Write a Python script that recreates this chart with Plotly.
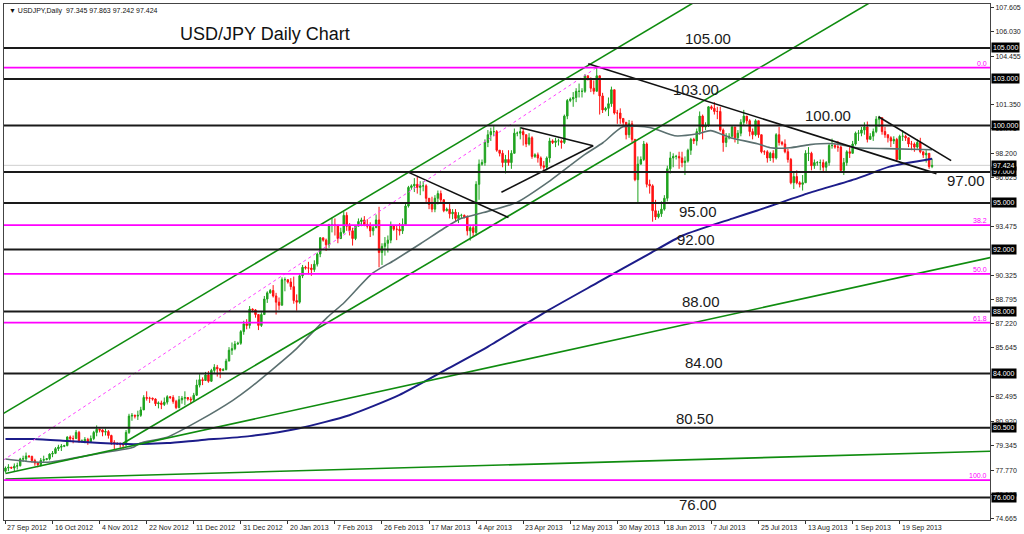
import plotly.graph_objects as go

# ---------------- data ----------------
# bar index 0 = 27 Sep 2012; 6 bars per week (Sunday bars), 316 bars in all
date_labels = ["27 Sep 2012", "16 Oct 2012", "4 Nov 2012", "22 Nov 2012", "11 Dec 2012",
               "31 Dec 2012", "20 Jan 2013", "7 Feb 2013", "26 Feb 2013", "17 Mar 2013",
               "4 Apr 2013", "23 Apr 2013", "12 May 2013", "30 May 2013", "18 Jun 2013",
               "7 Jul 2013", "25 Jul 2013", "13 Aug 2013", "1 Sep 2013", "19 Sep 2013"]
label_bars = [0, 16, 32, 48, 64, 80, 96, 112, 128, 144, 160, 176, 192, 208, 224,
              240, 256, 272, 288, 304]

first_open = 77.70
closes = [
    77.90, 77.95,
    77.90, 78.02, 78.05, 78.48, 78.50, 78.68,
    78.65, 78.38, 78.22, 78.12, 78.40, 78.45,
    78.50, 78.80, 78.85, 79.15, 79.25, 79.30,
    79.35, 79.90, 79.80, 79.80, 80.20, 79.60,
    79.65, 79.75, 79.60, 79.80, 80.20, 80.40,
    80.35, 80.22, 80.25, 80.00, 79.55, 79.50,
    79.45, 79.45, 79.40, 80.20, 81.25, 81.30,
    81.25, 81.30, 81.65, 82.45, 82.40, 82.40,
    82.35, 82.05, 82.10, 82.00, 82.15, 82.50,
    82.45, 82.20, 81.80, 82.30, 82.40, 82.45,
    82.35, 82.30, 82.60, 83.25, 83.60, 83.55,
    83.90, 83.50, 84.20, 84.40, 84.30, 84.20,
    84.25, 84.80, 85.50, 85.60, 85.90,
    85.95, 86.70, 87.20, 87.10, 88.15,
    88.10, 87.80, 87.10, 87.80, 88.80, 89.20,
    89.35, 89.00, 88.60, 88.40, 90.05, 90.05,
    89.90, 89.60, 88.70, 88.60, 90.30, 90.85,
    90.80, 90.80, 90.70, 91.05, 91.70, 92.75,
    92.60, 92.30, 93.60, 93.60, 93.55, 92.70,
    93.10, 94.20, 93.50, 93.20, 92.70, 93.50,
    93.80, 93.90, 93.60, 93.50, 93.20, 93.40,
    93.90, 91.80, 92.20, 92.40, 92.60, 93.55,
    93.30, 93.30, 93.20, 93.60, 94.80, 96.00,
    96.10, 96.20, 96.00, 96.10, 96.10, 95.30,
    94.90, 94.60, 95.30, 95.60, 95.20, 94.50,
    94.60, 94.30, 94.40, 94.00, 94.20, 94.20,
    94.10, 93.20, 93.40, 93.10, 96.20, 97.50,
    97.60, 98.90, 99.40, 99.60, 99.60, 98.40,
    98.20, 97.60, 97.80, 97.60, 98.20, 99.50,
    99.50, 99.60, 99.40, 98.80, 99.20, 98.00,
    98.10, 97.90, 97.40, 97.30, 97.90, 99.00,
    98.90, 99.00, 99.00, 98.90, 100.60, 101.60,
    101.70, 101.80, 102.20, 102.20, 102.20, 103.20,
    103.00, 102.40, 102.20, 103.20, 101.90, 101.00,
    101.10, 101.40, 102.30, 100.80, 100.80, 100.45,
    100.20, 99.40, 100.10, 99.10, 96.50, 97.50,
    97.80, 98.80, 96.20, 96.10, 94.50, 94.10,
    94.30, 94.60, 95.30, 97.20, 97.90, 98.00,
    98.00, 97.90, 97.60, 97.70, 98.40, 99.10,
    99.00, 99.60, 100.60, 99.90, 100.00, 101.20,
    101.10, 100.90, 100.90, 99.70, 98.90, 99.20,
    99.30, 99.90, 99.20, 99.50, 100.20, 100.60,
    100.30, 99.60, 99.40, 100.30, 99.40, 98.30,
    98.30, 97.90, 98.20, 97.90, 99.40, 98.90,
    98.80, 98.30, 97.80, 96.30, 96.70, 96.30,
    96.20, 96.30, 98.20, 98.20, 97.40, 97.60,
    97.60, 97.60, 97.30, 97.60, 98.70, 98.70,
    98.60, 98.60, 97.10, 97.60, 98.30, 98.20,
    98.80, 99.50, 99.50, 99.70, 99.90, 99.10,
    99.30, 99.60, 100.40, 100.50, 99.60, 99.40,
    99.20, 99.00, 99.10, 97.80, 99.30, 99.30,
    99.20, 98.80, 98.80, 98.60, 98.90, 98.30,
    98.10, 98.20, 97.345, 97.424,
]
highs = [
    78.00, 78.15,
    77.98, 78.20, 78.25, 78.56, 78.70, 78.90,
    78.72, 78.70, 78.50, 78.30, 78.55, 78.70,
    78.55, 78.85, 79.00, 79.25, 79.40, 79.45,
    79.40, 79.95, 80.00, 80.00, 80.35, 80.30,
    79.75, 79.90, 79.85, 80.00, 80.30, 80.65,
    80.45, 80.40, 80.45, 80.35, 80.05, 79.70,
    79.55, 79.55, 79.55, 80.35, 81.40, 81.45,
    81.35, 81.60, 81.85, 82.60, 82.85, 82.50,
    82.45, 82.40, 82.20, 82.25, 82.45, 82.60,
    82.55, 82.60, 82.30, 82.55, 82.55, 82.85,
    82.45, 82.50, 82.75, 83.60, 83.95, 83.75,
    84.10, 84.15, 84.30, 84.60, 84.55, 84.35,
    84.35, 84.95, 85.70, 86.00, 86.10,
    86.05, 86.80, 87.40, 87.50, 88.35,
    88.20, 88.15, 87.80, 87.95, 89.00, 89.30,
    89.45, 89.70, 89.20, 88.90, 90.20, 90.20,
    90.05, 90.15, 90.25, 89.10, 90.40, 91.00,
    90.95, 91.20, 91.05, 91.30, 91.80, 92.80,
    92.75, 92.70, 93.65, 94.05, 94.00, 93.60,
    93.40, 94.45, 94.40, 93.70, 93.40, 93.55,
    94.00, 94.05, 94.15, 93.95, 93.75, 93.60,
    94.25, 94.75, 92.40, 92.80, 92.90, 93.80,
    93.50, 93.55, 93.70, 94.00, 95.05, 96.10,
    96.20, 96.60, 96.70, 96.40, 96.40, 96.20,
    95.20, 95.40, 95.50, 95.80, 95.80, 95.25,
    94.70, 95.00, 94.60, 94.60, 94.40, 94.30,
    94.25, 94.20, 93.50, 93.60, 96.40, 97.80,
    97.80, 99.10, 99.70, 99.85, 99.95, 99.70,
    98.40, 98.40, 98.10, 98.40, 98.40, 99.80,
    99.60, 99.90, 99.80, 99.40, 99.50, 99.30,
    98.20, 98.25, 98.00, 97.70, 98.00, 99.20,
    99.10, 99.20, 99.15, 99.10, 100.70, 101.70,
    101.80, 102.15, 102.40, 102.70, 102.40, 103.30,
    103.20, 103.10, 102.90, 103.73, 103.10, 102.10,
    101.20, 101.80, 102.50, 102.10, 101.00, 101.10,
    100.40, 100.20, 100.35, 100.30, 99.10, 98.00,
    98.00, 99.00, 98.90, 96.50, 96.20, 95.20,
    94.50, 95.10, 95.50, 97.40, 98.30, 98.20,
    98.10, 98.30, 98.30, 98.00, 98.50, 99.20,
    99.20, 99.80, 100.90, 100.70, 100.20, 101.25,
    101.30, 101.50, 101.20, 101.20, 99.80, 99.50,
    99.50, 100.00, 99.90, 99.70, 100.40, 101.00,
    100.50, 100.40, 99.80, 100.40, 100.30, 99.40,
    98.40, 98.40, 98.30, 98.40, 99.50, 99.90,
    99.00, 99.10, 98.50, 97.90, 96.95, 97.10,
    96.40, 96.80, 98.40, 98.60, 98.30, 97.80,
    97.70, 97.80, 97.80, 97.70, 98.80, 99.15,
    98.80, 99.00, 98.70, 97.90, 98.40, 98.60,
    99.00, 99.60, 99.70, 99.90, 100.20, 100.25,
    99.50, 99.80, 100.60, 100.62, 100.40, 99.90,
    99.40, 99.30, 99.30, 99.20, 99.40, 99.70,
    99.40, 99.20, 99.00, 98.90, 99.10, 99.20,
    98.30, 98.40, 98.20, 97.863,
]
lows = [
    77.60, 77.70,
    77.85, 77.66, 77.80, 78.00, 78.30, 78.30,
    78.55, 78.25, 78.05, 77.95, 78.00, 78.30,
    78.40, 78.40, 78.60, 78.80, 79.00, 79.00,
    79.25, 79.30, 79.60, 79.50, 79.80, 79.55,
    79.55, 79.50, 79.40, 79.55, 79.70, 79.95,
    80.20, 79.95, 80.00, 79.80, 79.40, 79.05,
    79.40, 79.20, 79.10, 79.30, 80.10, 80.95,
    81.10, 81.00, 81.20, 81.65, 82.25, 82.10,
    82.25, 81.90, 81.75, 81.70, 81.90, 82.00,
    82.35, 82.05, 81.70, 81.75, 82.05, 81.95,
    82.25, 82.05, 82.20, 82.55, 83.10, 83.25,
    83.60, 83.40, 83.45, 84.00, 83.80, 83.70,
    84.15, 84.20, 84.80, 85.20, 85.50,
    85.85, 85.85, 86.50, 86.85, 86.90,
    87.95, 87.60, 86.80, 87.00, 87.80, 88.55,
    89.15, 88.90, 87.80, 88.10, 88.40, 89.30,
    89.80, 89.40, 88.50, 88.05, 88.50, 90.15,
    90.70, 90.40, 90.30, 90.55, 90.90, 91.50,
    92.50, 91.90, 92.10, 93.10, 92.90, 92.40,
    92.80, 93.00, 93.20, 92.90, 92.25, 92.60,
    93.60, 93.50, 93.50, 93.35, 92.80, 92.90,
    93.70, 90.85, 91.00, 91.60, 91.80, 92.40,
    93.20, 92.60, 92.90, 93.00, 93.60, 94.70,
    95.85, 95.70, 95.60, 95.50, 95.75, 95.00,
    94.60, 94.40, 94.40, 94.90, 95.00, 94.40,
    94.45, 94.00, 93.95, 93.80, 93.70, 94.00,
    94.00, 92.90, 92.57, 92.80, 92.90, 95.20,
    97.40, 97.40, 98.60, 99.00, 99.30, 98.30,
    98.00, 97.30, 96.90, 97.40, 97.20, 98.20,
    99.30, 99.10, 98.70, 98.60, 98.70, 97.85,
    97.90, 97.60, 97.20, 97.10, 97.10, 97.60,
    98.80, 98.60, 98.70, 98.50, 98.80, 100.40,
    101.50, 101.20, 101.50, 101.80, 101.80, 102.10,
    102.90, 102.15, 102.00, 102.20, 100.70, 100.80,
    100.90, 100.60, 101.20, 100.70, 100.10, 100.10,
    100.00, 99.10, 99.20, 98.90, 96.40, 94.95,
    97.50, 97.70, 96.00, 95.60, 93.79, 93.90,
    94.00, 94.10, 94.50, 95.10, 96.90, 97.30,
    97.80, 97.20, 97.30, 96.80, 97.60, 98.10,
    98.80, 98.70, 99.40, 99.10, 99.70, 99.90,
    101.00, 100.70, 100.40, 99.60, 98.30, 98.60,
    99.10, 99.20, 98.90, 98.80, 99.30, 100.00,
    100.10, 99.30, 99.10, 99.30, 99.20, 98.20,
    98.10, 97.60, 97.70, 97.60, 97.80, 98.70,
    98.70, 98.20, 97.60, 96.20, 95.90, 96.20,
    96.00, 95.80, 96.30, 97.70, 97.10, 97.20,
    97.40, 97.10, 97.00, 97.00, 97.40, 98.50,
    98.50, 98.30, 96.95, 96.80, 97.40, 97.90,
    98.50, 98.70, 99.00, 99.30, 99.40, 98.90,
    99.10, 99.00, 99.50, 99.90, 99.40, 99.20,
    98.90, 98.60, 98.80, 97.70, 97.80, 99.00,
    99.00, 98.60, 98.40, 98.30, 98.50, 98.20,
    97.90, 97.60, 97.20, 97.242,
]
last_quote = ["97.345", "97.863", "97.242", "97.424"]
current_price = 97.424

# moving averages (bar, price)
grey_ma_bars = [0, 9.6, 15.4, 32.3, 43.5, 45.8, 55, 66.1, 77.3, 83, 98.3, 109.4, 115.2, 124.7,
                132.1, 141.2, 149, 154.8, 162.5, 173.7, 185.2, 196.4, 203.1, 209.9, 219.4,
                227.5, 235.3, 239.7, 246.4, 255.6, 260, 266.7, 273.5, 281.6, 289.4, 299.6, 315]
grey_ma_vals = [78.48, 78.29, 78.29, 78.86, 79.25, 79.51, 79.89, 80.99, 82.27, 83.05, 85.49, 87.62,
                88.58, 90.45, 91.29, 92.38, 93.35, 93.99, 94.38, 95.02, 96.44, 98.05, 98.88, 99.91,
                99.85, 99.33, 99.46, 99.66, 99.21, 98.82, 98.56, 98.56, 98.76, 98.82, 98.56, 98.50,
                98.43]
blue_ma_bars = [0, 9.6, 21.1, 32.3, 43.5, 55, 66.1, 83, 100, 116.9, 133.8, 150.7, 164.2, 184.5,
                201.4, 218.4, 230.2, 247.1, 255.6, 272.5, 289.4, 300.6, 315]
blue_ma_vals = [79.77, 79.77, 79.64, 79.51, 79.44, 79.51, 79.70, 79.96, 80.47, 81.31, 82.60, 84.34,
                85.75, 88.07, 89.87, 91.67, 92.90, 93.99, 94.51, 95.60, 96.57, 97.34, 97.85]

# horizontal support / resistance levels and their text labels
levels = [105.0, 103.0, 100.0, 97.0, 95.0, 92.0, 88.0, 84.0, 80.5, 76.0]
level_texts = ["105.00", "103.00", "100.00", "97.00", "95.00", "92.00", "88.00", "84.00",
               "80.50", "76.00"]
level_text_bar = [238.7, 234.6, 279.6, 326.5, 235.6, 234.6, 236.3, 237.3, 234.3, 235.6]
level_text_price = [105.58, 102.30, 100.62, 96.44, 94.42, 92.64, 88.65, 84.72, 81.12, 75.52]

# Fibonacci retracement (anchors: low bar/price, high bar/price)
fib_low = (-11, 77.12)
fib_high = (201, 103.73)
fib_ratios = [0.0, 38.2, 50.0, 61.8, 100.0]

# trend lines: (bar0, price0, bar1, price1)
green_lines = [
    (-1, 81.39, 240, 108.60),     # upper channel
    (40, 79.50, 300, 108.60),     # lower channel
    (0, 77.55, 335, 91.48),       # fan line
    (0, 77.19, 335, 78.99),       # flat fan line
]
black_lines = [
    (136.5, 97.02, 171.0, 94.06),
    (175.1, 99.85, 199.8, 98.69),
    (168.6, 95.69, 199.8, 98.69),
    (198.1, 103.97, 316.5, 96.89),
    (296.8, 100.56, 321.5, 97.73),
]

right_ticks = [107.605, 106.030, 104.455, 101.350, 99.775, 98.200, 96.625, 93.475, 90.325,
               88.795, 87.220, 85.645, 82.495, 80.920, 79.345, 77.770, 76.195, 74.665]

x_range = [-0.5, 334.7]
y_range = [74.55, 107.83]

# ---------------- figure ----------------
n = len(closes)
bars = list(range(n))
opens = [first_open] + closes[:-1]
hi = [max(h, o, c) for h, o, c in zip(highs, opens, closes)]
lo = [min(l, o, c) for l, o, c in zip(lows, opens, closes)]

fig = go.Figure()

fig.add_trace(go.Candlestick(
    x=bars, open=opens, high=hi, low=lo, close=closes,
    increasing=dict(line=dict(color="#1fa31f", width=1), fillcolor="#1fa31f"),
    decreasing=dict(line=dict(color="#ff1010", width=1), fillcolor="#ff1010"),
    whiskerwidth=0, hoverinfo="skip", showlegend=False))

fig.add_trace(go.Scatter(x=grey_ma_bars, y=grey_ma_vals, mode="lines",
                         line=dict(color="#5b7070", width=1.6, shape="spline", smoothing=0.6),
                         hoverinfo="skip", showlegend=False))
fig.add_trace(go.Scatter(x=blue_ma_bars, y=blue_ma_vals, mode="lines",
                         line=dict(color="#1c1c8a", width=2, shape="spline", smoothing=0.6),
                         hoverinfo="skip", showlegend=False))

for (b0, p0, b1, p1) in green_lines:
    fig.add_trace(go.Scatter(x=[b0, b1], y=[p0, p1], mode="lines",
                             line=dict(color="#0f8c0f", width=1.6),
                             hoverinfo="skip", showlegend=False))
for (b0, p0, b1, p1) in black_lines:
    fig.add_trace(go.Scatter(x=[b0, b1], y=[p0, p1], mode="lines",
                             line=dict(color="#111111", width=1.6),
                             hoverinfo="skip", showlegend=False))

# fib dotted diagonal
fig.add_trace(go.Scatter(x=[fib_low[0], fib_high[0]], y=[fib_low[1], fib_high[1]], mode="lines",
                         line=dict(color="#ff40ff", width=1, dash="dot"),
                         hoverinfo="skip", showlegend=False))

shapes = []
annotations = []

# current price line
shapes.append(dict(type="line", xref="paper", x0=0, x1=1, yref="y", y0=current_price,
                   y1=current_price, line=dict(color="#cfcfcf", width=1), layer="below"))

# fib levels
fib_levels = [fib_high[1] - r / 100.0 * (fib_high[1] - fib_low[1]) for r in fib_ratios]
for r, v in zip(fib_ratios, fib_levels):
    shapes.append(dict(type="line", xref="paper", x0=0, x1=1, yref="y", y0=v, y1=v,
                       line=dict(color="#ff00ff", width=1.8), layer="above"))
    annotations.append(dict(xref="paper", x=1, xanchor="right", xshift=-1, yref="y", y=v,
                            yanchor="bottom", yshift=-1, text=f"{r:.1f}", showarrow=False,
                            font=dict(family="Liberation Sans", size=7, color="#ff00ff")))

# black levels
for v in levels:
    shapes.append(dict(type="line", xref="paper", x0=0, x1=1, yref="y", y0=v, y1=v,
                       line=dict(color="#1a1a1a", width=2), layer="above"))

for t, b, p in zip(level_texts, level_text_bar, level_text_price):
    annotations.append(dict(x=b, y=p, xref="x", yref="y", text=t, showarrow=False,
                            font=dict(family="Liberation Sans", size=15, color="#1a1a1a")))

# title text object
annotations.append(dict(x=58.7, y=105.92, xref="x", yref="y", xanchor="left", text="USD/JPY Daily Chart",
                        showarrow=False, font=dict(family="Liberation Sans", size=18, color="#111111")))

# header line
annotations.append(dict(xref="paper", yref="paper", x=0, y=1, xanchor="left", yanchor="top",
                        xshift=3, yshift=-1,
                        text="\u25bc USDJPY,Daily  " + " ".join(last_quote), showarrow=False,
                        font=dict(family="Liberation Sans", size=7, color="#111111")))

# price boxes on the right axis
for v in levels + [current_price]:
    annotations.append(dict(xref="paper", x=1, xanchor="left", xshift=1, yref="y", y=v,
                            text=f"{v:.3f}", showarrow=False, bgcolor="#000000", borderpad=1,
                            font=dict(family="Liberation Sans", size=7, color="#ffffff")))

# date labels (left-aligned at their tick)
for b, t in zip(label_bars, date_labels):
    annotations.append(dict(x=b, xref="x", xanchor="left", xshift=0, y=0, yref="paper",
                            yanchor="top", yshift=-2, text=t, showarrow=False,
                            font=dict(family="Liberation Sans", size=7, color="#222222")))

fig.update_layout(
    width=1024, height=534,
    margin=dict(l=3, r=30, t=3, b=14),
    paper_bgcolor="white", plot_bgcolor="white",
    hovermode=False, showlegend=False,
    shapes=shapes, annotations=annotations,
    xaxis=dict(range=x_range, showgrid=False, zeroline=False, rangeslider=dict(visible=False),
               tickvals=label_bars, ticktext=[""] * len(label_bars), ticks="outside", ticklen=3,
               tickcolor="#333333", showline=True, linecolor="#444444", linewidth=1, mirror=True,
               fixedrange=True),
    yaxis=dict(range=y_range, side="right", showgrid=False, zeroline=False,
               tickvals=right_ticks, ticktext=[f"{v:.3f}" for v in right_ticks],
               ticks="outside", ticklen=3, tickcolor="#333333",
               tickfont=dict(family="Liberation Sans", size=7, color="#222222"),
               showline=True, linecolor="#444444", linewidth=1, mirror=True, fixedrange=True),
)

fig.write_html("out.html", config={"displayModeBar": False},
               post_script="document.body.style.margin='0';document.body.style.overflow='hidden';")
